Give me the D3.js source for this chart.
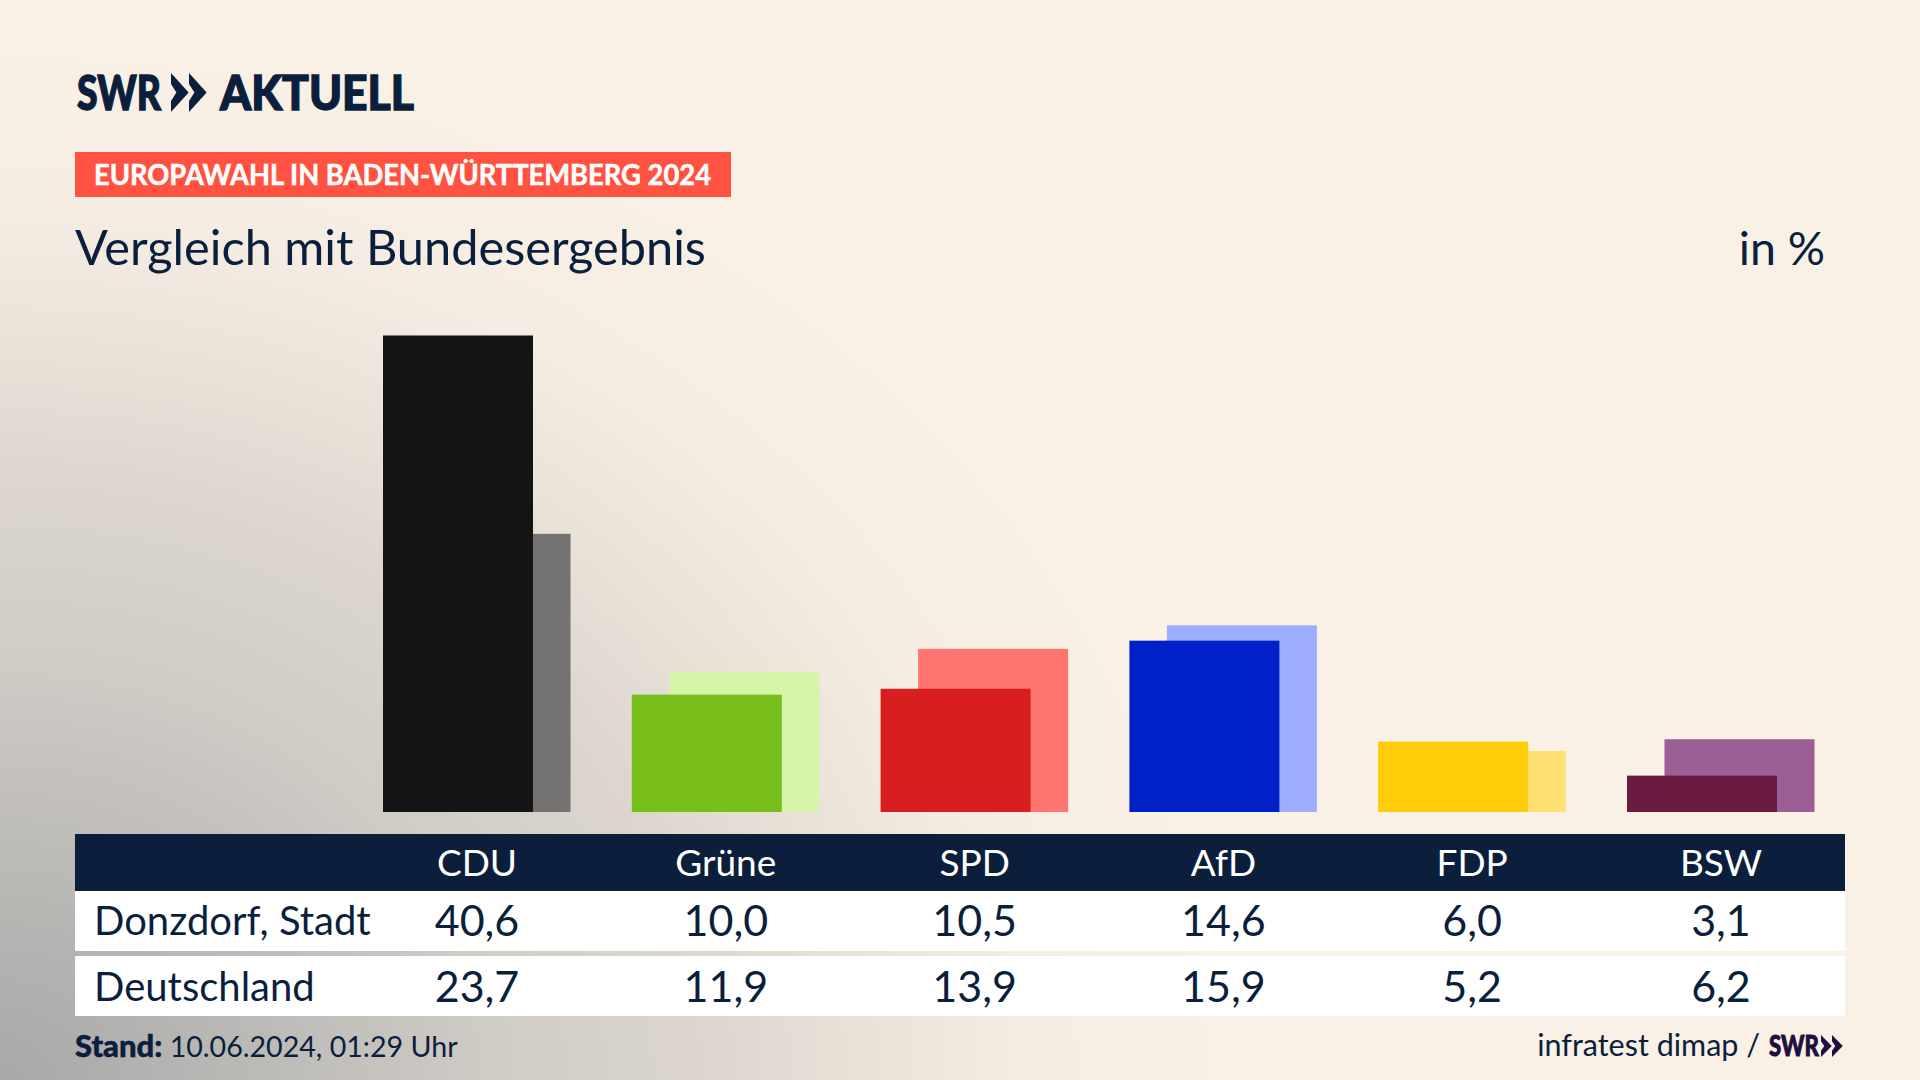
<!DOCTYPE html>
<html lang="de"><head><meta charset="utf-8">
<script src="https://cdn.jsdelivr.net/npm/d3@7"></script>
<style>html,body{margin:0;padding:0;background:#faf1e6}svg{display:block}text{font-family:Lato,"Noto Sans",sans-serif}</style>
</head><body><svg id="c" width="1920" height="1080"></svg>
<script>
const parties=["CDU","Grüne","SPD","AfD","FDP","BSW"];
const localLabel="Donzdorf, Stadt";
const nationalLabel="Deutschland";
const localValues=[40.6,10.0,10.5,14.6,6.0,3.1];
const nationalValues=[23.7,11.9,13.9,15.9,5.2,6.2];
const frontColors=["#141414","#78be1a","#d81e1e","#0020c8","#ffcc0a","#6b1a40"];
const backColors=["#737271","#d6f5a8","#ff7570","#9dadff","#ffe173","#9b5f96"];
const fmt=v=>v.toFixed(1).replace(".",",");
const navy="#0b1f3d";
const svg=d3.select("#c");
const defs=svg.append("defs");
const g=defs.append("radialGradient").attr("id","bg").attr("gradientUnits","userSpaceOnUse")
 .attr("cx",0).attr("cy",0).attr("r",1).attr("gradientTransform","translate(0,1080) scale(1250,1060)");
[[0,"#a8a8a7"],[.22,"#bdbbb8"],[.4,"#d0ccc6"],[.57,"#dcd6ce"],[.68,"#e9e1d8"],[.82,"#f5ede3"],[1,"#faf1e6"]].forEach(([o,c])=>g.append("stop").attr("offset",o).attr("stop-color",c));
svg.append("rect").attr("width",1920).attr("height",1080).attr("fill","url(#bg)");

const x=d3.scaleBand().domain(parties).range([352.6,1845.4]);
const y=d3.scaleLinear().domain([0,40.6]).range([812,335.5]);
const bw=150, off=37.5, pad=(x.bandwidth()-bw-38)/2;
const marks=svg.append("g");
parties.forEach((p,i)=>{
 marks.append("rect").attr("x",x(p)+pad+off).attr("width",bw).attr("y",y(nationalValues[i])).attr("height",y(0)-y(nationalValues[i])).attr("fill",backColors[i]);
 marks.append("rect").attr("x",x(p)+pad).attr("width",bw).attr("y",y(localValues[i])).attr("height",y(0)-y(localValues[i])).attr("fill",frontColors[i]);
});

// logo
function chev(sel,x0,y0,w,h,fill){
 [0,w].forEach(dx=>sel.append("path").attr("fill",fill)
  .attr("d",`M${x0+dx},${y0}L${x0+dx+w*.98},${y0+h/2}L${x0+dx},${y0+h}L${x0+dx},${y0+h*.72}L${x0+dx+w*.3},${y0+h/2}L${x0+dx},${y0+h*.28}Z`));
}
function fit(t,len){return t.attr("textLength",len).attr("lengthAdjust","spacingAndGlyphs");}
function heavy(t,w,c){return t.attr("stroke",c).attr("stroke-width",w);}
heavy(fit(svg.append("text").attr("x",77).attr("y",110).attr("font-size",48).attr("font-weight",900).attr("fill",navy).text("SWR"),84),1.4,navy);
chev(svg,171,73,18,39,navy);
heavy(fit(svg.append("text").attr("x",220).attr("y",110).attr("font-size",48).attr("font-weight",900).attr("fill",navy).text("AKTUELL"),194),1.4,navy);

// tag
svg.append("rect").attr("x",75).attr("y",152).attr("width",656).attr("height",45).attr("fill","#ff5240");
heavy(fit(svg.append("text").attr("x",94).attr("y",185).attr("font-size",28).attr("font-weight",700).attr("fill","#fff").text("EUROPAWAHL IN BADEN-WÜRTTEMBERG 2024"),617),.5,"#fff");
// title
svg.append("text").attr("x",75).attr("y",265).attr("font-size",48.7).attr("fill",navy).text("Vergleich mit Bundesergebnis");
svg.append("text").attr("x",1825).attr("y",265).attr("font-size",46.5).attr("fill",navy).attr("text-anchor","end").text("in %");

// table
const rows=[[localLabel,localValues,891,60,935],[nationalLabel,nationalValues,956,60,1001]];
svg.append("rect").attr("x",75).attr("y",834).attr("width",1770).attr("height",57).attr("fill",navy);
svg.append("g").selectAll("text").data(parties).join("text").attr("x",d=>x(d)+x.bandwidth()/2).attr("y",876).attr("text-anchor","middle").attr("font-size",37).attr("fill","#fff").text(d=>d);
rows.forEach(([lab,vals,ry,rh,base])=>{
 svg.append("rect").attr("x",75).attr("y",ry).attr("width",1770).attr("height",rh).attr("fill","#fff");
 svg.append("text").attr("x",94).attr("y",base).attr("font-size",40).attr("fill",navy).text(lab);
 svg.append("g").selectAll("text").data(vals).join("text").attr("x",(d,i)=>x(parties[i])+x.bandwidth()/2).attr("y",base+1).attr("text-anchor","middle").attr("font-size",43).attr("fill",navy).text(fmt);
});

// footer
const ft=svg.append("text").attr("x",75).attr("y",1057).attr("font-size",28.6).attr("fill",navy);
ft.append("tspan").attr("font-weight",900).attr("font-size",31).attr("stroke",navy).attr("stroke-width",.5).text("Stand:");
ft.append("tspan").text(" 10.06.2024, 01:29 Uhr");
svg.append("text").attr("x",1760).attr("y",1056).attr("text-anchor","end").attr("font-size",30.5).attr("fill",navy).text("infratest dimap /");
heavy(fit(svg.append("text").attr("x",1769).attr("y",1056).attr("font-size",29).attr("font-weight",900).attr("fill","#1e0f3f").text("SWR"),50),.9,"#1e0f3f");
chev(svg,1821,1035,11,22,"#1e0f3f");
</script></body></html>
